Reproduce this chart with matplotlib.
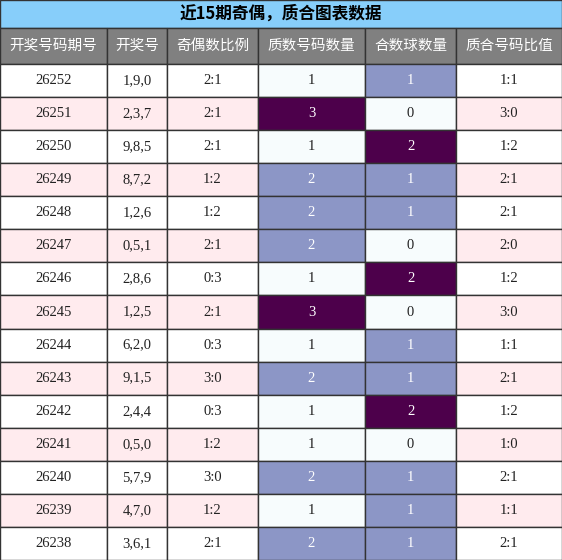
import matplotlib
matplotlib.use("Agg")
import matplotlib.pyplot as plt
from matplotlib.patches import Rectangle

title = "近15期奇偶，质合图表数据"
headers = ["开奖号码期号", "开奖号", "奇偶数比例", "质数号码数量", "合数球数量", "质合号码比值"]
periods = [26252,26251,26250,26249,26248,26247,26246,26245,26244,26243,26242,26241,26240,26239,26238]
draws = ["1,9,0","2,3,7","9,8,5","8,7,2","1,2,6","0,5,1","2,8,6","1,2,5","6,2,0","9,1,5","2,4,4","0,5,0","5,7,9","4,7,0","3,6,1"]
odd_even = ["2:1","2:1","2:1","1:2","1:2","2:1","0:3","2:1","0:3","3:0","0:3","1:2","3:0","1:2","2:1"]
primes = [1,3,1,2,2,2,1,3,1,2,1,1,2,1,2]
composites = [1,0,2,1,1,0,2,0,1,1,2,0,1,1,1]
pc_ratio = ["1:1","3:0","1:2","2:1","2:1","2:0","1:2","3:0","1:1","2:1","1:2","1:0","2:1","1:1","2:1"]

W, H = 562, 560
fig = plt.figure(figsize=(W/100, H/100), dpi=100)
ax = fig.add_axes([0, 0, 1, 1])
ax.set_xlim(0, W); ax.set_ylim(H, 0); ax.axis("off")

cols = [0, 107, 167, 258, 365, 456, 562]
title_h, head_h = 28, 36
row_h = (H - title_h - head_h) / 15
cjk = ["Noto Sans CJK SC", "DejaVu Sans"]
serif = ["Liberation Serif", "DejaVu Serif"]

ax.add_patch(Rectangle((0, 0), W, title_h, facecolor="#87cefa", edgecolor="#333", lw=1))
ax.text(W/2, title_h/2, title, ha="center", va="center", fontsize=12, fontweight="bold", family=cjk)
for i, h in enumerate(headers):
    ax.add_patch(Rectangle((cols[i], title_h), cols[i+1]-cols[i], head_h, facecolor="#808080", edgecolor="#333", lw=1))
    ax.text((cols[i]+cols[i+1])/2, title_h+head_h/2, h, ha="center", va="center", fontsize=10.5, color="white", family=cjk)

def scale(v, m):
    return {0: "#f7fcfd", 1: "#f7fcfd", 2: "#8c96c6", 3: "#4d004b"}[v] if m == "p" else {0: "#f7fcfd", 1: "#8c96c6", 2: "#4d004b"}[v]

for r in range(15):
    y = title_h + head_h + r*row_h
    bg = "white" if r % 2 == 0 else "#ffebee"
    vals = [str(periods[r]), draws[r], odd_even[r], str(primes[r]), str(composites[r]), pc_ratio[r]]
    for c in range(6):
        fc, tc = bg, "#222"
        if c == 3:
            fc = scale(primes[r], "p"); tc = "white" if primes[r] >= 2 else "#222"
        if c == 4:
            fc = scale(composites[r], "c"); tc = "white" if composites[r] >= 1 else "#222"
        ax.add_patch(Rectangle((cols[c], y), cols[c+1]-cols[c], row_h, facecolor=fc, edgecolor="#333", lw=1))
        ax.text((cols[c]+cols[c+1])/2, y+row_h/2, vals[c], ha="center", va="center", fontsize=10.5, color=tc, family=serif)

fig.savefig("out.png", dpi=100)
